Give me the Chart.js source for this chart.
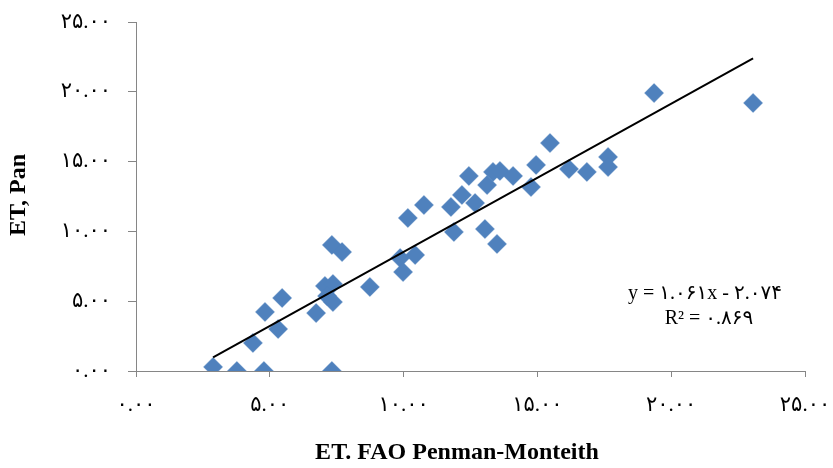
<!DOCTYPE html>
<html>
<head>
<meta charset="utf-8">
<script src="https://cdn.jsdelivr.net/npm/chart.js@4.4.1/dist/chart.umd.min.js"></script>
<style>
  html, body { margin: 0; padding: 0; background: #fff; }
  #wrap { width: 833px; height: 468px; position: relative; }
</style>
</head>
<body>
<div id="wrap"><canvas id="c" width="833" height="468"></canvas></div>
<script>
// ---- Data ----
const etFao = [2.88, 3.77, 4.78, 4.37, 4.82, 5.31, 5.46, 6.73, 7.06, 7.36, 7.14, 7.36, 7.32, 7.70, 8.74, 7.32,
  9.87, 9.98, 10.43, 10.16, 10.76, 11.77, 11.88, 12.18, 12.44, 12.67, 13.12, 13.34, 13.60, 13.04, 13.49,
  14.09, 14.76, 14.95, 15.47, 16.18, 16.85, 17.64, 17.64, 19.36, 23.06];
const etPan = [0.29, 0.00, 0.00, 2.01, 4.23, 3.01, 5.23, 4.15, 6.09, 6.23, 5.37, 4.94, 9.03, 8.52, 6.02, 0.00,
  8.09, 7.09, 8.31, 10.96, 11.89, 11.75, 9.96, 12.61, 13.97, 12.03, 13.32, 14.26, 14.33, 10.17, 9.10,
  13.97, 13.18, 14.76, 16.33, 14.47, 14.26, 15.33, 14.61, 19.91, 19.20];
const trendSlope = 1.061;
const trendIntercept = -2.074;
const rSquared = 0.869;
const axisMin = 0, axisMax = 25, axisStep = 5;
const xTitle = 'ET. FAO Penman-Monteith';
const yTitle = 'ET, Pan';

// ---- helpers ----
const faDigits = ['۰','۱','۲','۳','۴','۵','۶','۷','۸','۹'];
function toFa(str) { return String(str).replace(/[0-9]/g, d => faDigits[+d]); }

const points = etFao.map((x, i) => ({ x: x, y: etPan[i] }));
const xMinData = Math.min(...etFao), xMaxData = Math.max(...etFao);
const trendPoints = [
  { x: xMinData, y: trendSlope * xMinData + trendIntercept },
  { x: xMaxData, y: trendSlope * xMaxData + trendIntercept }
];
const eqText = 'y = ' + toFa(trendSlope.toFixed(3)) + 'x - ' + toFa(Math.abs(trendIntercept).toFixed(3));
const r2Text = 'R² = ' + toFa(rSquared.toFixed(3));

const serif = '"Liberation Serif", "Times New Roman", "DejaVu Serif", "DejaVu Sans", serif';
const axisGray = '#868686';

const textPlugin = {
  id: 'texts',
  afterDraw(chart) {
    const ctx = chart.ctx;
    ctx.save();
    ctx.fillStyle = '#000';
    ctx.textAlign = 'center';
    ctx.textBaseline = 'middle';
    // x title
    ctx.font = 'bold 24px ' + serif;
    ctx.fillText(xTitle, 457, 453);
    // y title
    ctx.save();
    ctx.translate(19, 195);
    ctx.rotate(-Math.PI / 2);
    ctx.fillText(yTitle, 0, 0);
    ctx.restore();
    // trendline equation
    ctx.font = '20px ' + serif;
    ctx.fillText(eqText, 705, 294);
    ctx.fillText(r2Text, 709, 319);
    ctx.restore();
  }
};

new Chart(document.getElementById('c'), {
  type: 'scatter',
  data: {
    datasets: [
      {
        type: 'line',
        data: trendPoints,
        borderColor: '#000',
        borderWidth: 2,
        pointRadius: 0,
        fill: false,
        order: 0
      },
      {
        data: points,
        pointStyle: 'rectRot',
        pointRadius: 9.5,
        pointHoverRadius: 9.5,
        backgroundColor: '#4F81BD',
        borderColor: '#4F81BD',
        borderWidth: 0.5,
        order: 1
      }
    ]
  },
  options: {
    responsive: false,
    animation: false,
    devicePixelRatio: 1,
    layout: { padding: { top: 22, right: 28, left: 0, bottom: 0 } },
    plugins: { legend: { display: false }, tooltip: { enabled: false } },
    scales: {
      x: {
        type: 'linear',
        min: axisMin, max: axisMax,
        afterFit(scale) { scale.height = 97; scale.paddingLeft = 0; scale.paddingRight = 0; },
        ticks: {
          stepSize: axisStep,
          color: '#000',
          padding: 16,
          font: { family: serif, size: 21 },
          callback: v => toFa(Number(v).toFixed(2))
        },
        grid: { display: true, drawOnChartArea: false, drawTicks: true, tickLength: 6, color: axisGray },
        border: { display: true, color: axisGray, width: 1 }
      },
      y: {
        type: 'linear',
        min: axisMin, max: axisMax,
        afterFit(scale) { scale.width = 136; scale.paddingTop = 0; scale.paddingBottom = 0; },
        ticks: {
          stepSize: axisStep,
          color: '#000',
          padding: 17,
          font: { family: serif, size: 21 },
          callback: v => toFa(Number(v).toFixed(2))
        },
        grid: { display: true, drawOnChartArea: false, drawTicks: true, tickLength: 8, color: axisGray },
        border: { display: true, color: axisGray, width: 1 }
      }
    }
  },
  plugins: [textPlugin]
});
</script>
</body>
</html>
